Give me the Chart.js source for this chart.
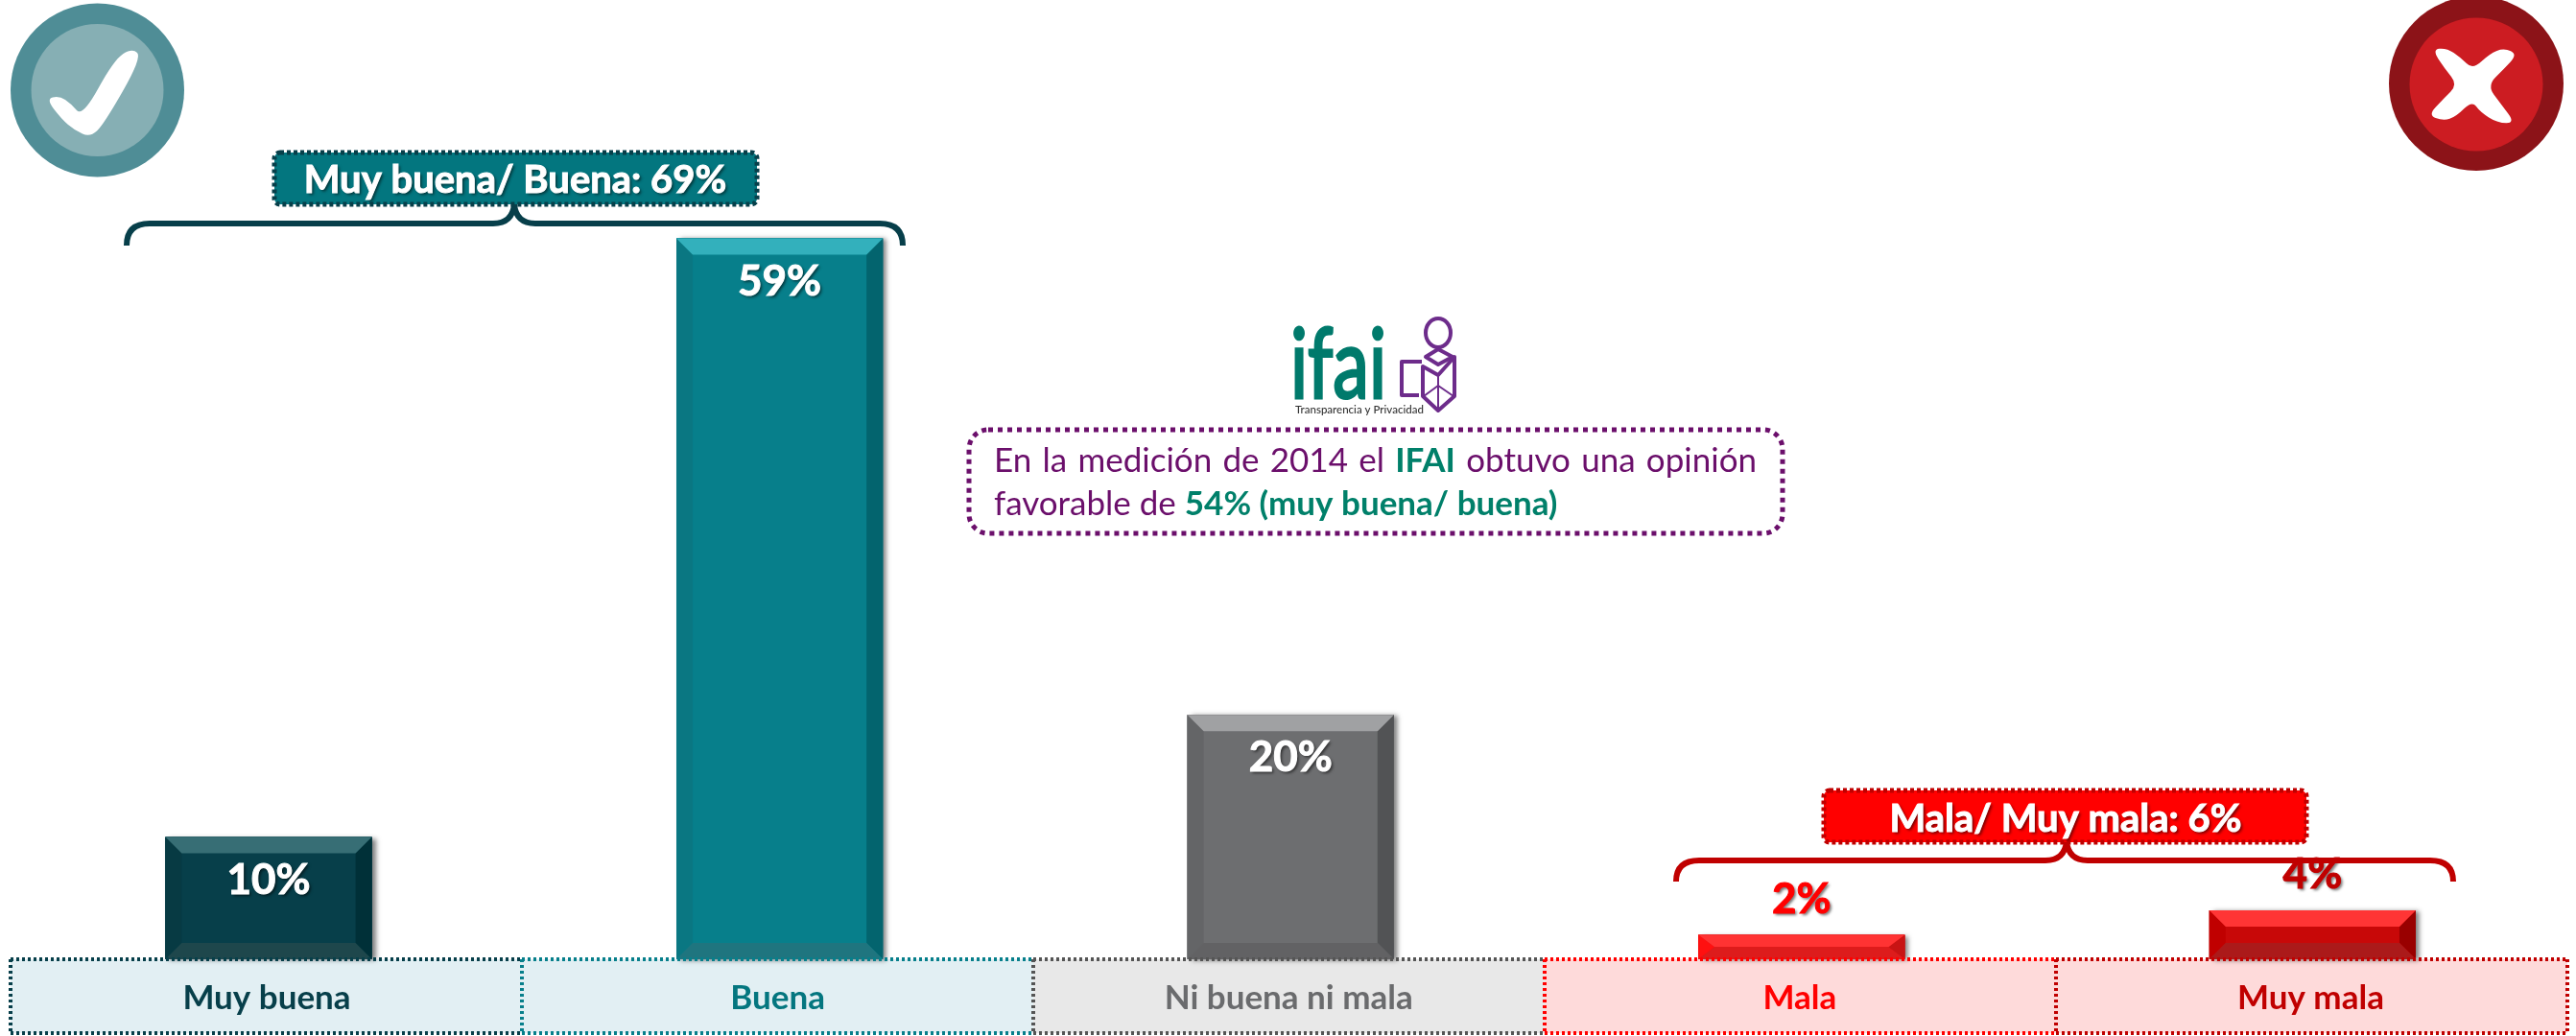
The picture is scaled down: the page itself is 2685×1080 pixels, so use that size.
<!DOCTYPE html>
<html><head><meta charset="utf-8">
<script src="https://cdn.jsdelivr.net/npm/chart.js@4"></script>
<style>html,body{margin:0;padding:0;background:#fff;overflow:hidden}canvas{display:block}</style>
</head><body><canvas id="c" width="2685" height="1080"></canvas>
<script>
const categories = ['Muy buena','Buena','Ni buena ni mala','Mala','Muy mala'];
const percentValues = [10,59,20,2,4];
const valueLabels = ['10%','59%','20%','2%','4%'];
const barColors = ['#073F4A','#077F8B','#6D6E70','#E01515','#C80808'];
const tickColors = ['#073F4A','#04767F','#6A6B6D','#FF0000','#C00000'];
const valueLabelColors = ['#FFFFFF','#FFFFFF','#FFFFFF','#FF0000','#C00000'];
const bevelTop = ['#376E75','#33B0BC','#A0A1A3','#FF3333','#FF3535'];
const bevelRight = ['#003038','#03646E','#525355','#C81414','#990000'];
const bevelLeft = ['#073A43','#0A7782','#646567','#FF1010','#C00000'];
const bevelBottom = ['#1E474C','#1F757F','#626264','#DD1C1C','#AB1A1A'];
const cellFills = ['#E2EFF3','#E2EFF3','#E8E8E8','#FEDADA','#FEDADA'];
const cellBorders = ['#073F4A','#077F8B','#555555','#FF0000','#C00000'];
const FONT = 'Lato, "Open Sans", sans-serif';

function poly(ctx, pts, fill){ctx.beginPath();pts.forEach((p,i)=>i?ctx.lineTo(p[0],p[1]):ctx.moveTo(p[0],p[1]));ctx.closePath();ctx.fillStyle=fill;ctx.fill();}
function smooth(ctx,pts){
  const n=pts.length;ctx.beginPath();
  ctx.moveTo((pts[n-1][0]+pts[0][0])/2,(pts[n-1][1]+pts[0][1])/2);
  for(let i=0;i<n;i++){const a=pts[i],b=pts[(i+1)%n];ctx.quadraticCurveTo(a[0],a[1],(a[0]+b[0])/2,(a[1]+b[1])/2);}
  ctx.closePath();
}
function shadowText(ctx,txt,x,y,color,font,align){
  ctx.save();ctx.font=font;ctx.textAlign=align||'center';ctx.textBaseline='middle';ctx.fillStyle=color;
  ctx.shadowColor='rgba(0,0,0,0.55)';ctx.shadowBlur=3;ctx.shadowOffsetX=2;ctx.shadowOffsetY=2;
  ctx.fillText(txt,x,y);
  ctx.shadowColor='transparent';ctx.strokeStyle=color;ctx.lineWidth=1;ctx.strokeText(txt,x,y);ctx.restore();
}
function badge(ctx,x0,y0,x1,y1,fill,stroke,txt,tx,ty){
  ctx.save();ctx.beginPath();ctx.roundRect(x0+2,y0+2,x1-x0-4,y1-y0-4,6);ctx.fillStyle=fill;ctx.fill();
  ctx.setLineDash([4,3]);ctx.lineWidth=5;ctx.strokeStyle=stroke;ctx.stroke();ctx.restore();
  shadowText(ctx,txt,tx,ty,'#FFFFFF','700 40px '+FONT);
}
function brace(ctx,x0,x1,cx,yT,yEnd,apex,color){
  ctx.save();ctx.beginPath();ctx.strokeStyle=color;ctx.lineWidth=6;
  ctx.moveTo(x0,yEnd);ctx.quadraticCurveTo(x0,yT,x0+24,yT);ctx.lineTo(cx-22,yT);
  ctx.quadraticCurveTo(cx-2,yT,cx,apex);ctx.quadraticCurveTo(cx+2,yT,cx+22,yT);
  ctx.lineTo(x1-24,yT);ctx.quadraticCurveTo(x1,yT,x1,yEnd);ctx.stroke();ctx.restore();
}
function icons(ctx){
  const circ=(x,y,r,c)=>{ctx.beginPath();ctx.arc(x,y,r,0,Math.PI*2);ctx.fillStyle=c;ctx.fill();};
  circ(101.5,94,90.5,'#4F8D96');circ(101.5,94,69,'#86AFB4');
  const chk=[[48,103],[62,100],[74,108],[86,122],[119,62],[138,50],[148,60],[108,130],[94,143],[78,136],[64,124]];
  ctx.save();ctx.fillStyle='#fff';smooth(ctx,chk);ctx.fill();
  circ(2581,87,91,'#8C1318');circ(2581,88,69.5,'#CC1C22');
  const xs=[[285,155],[330,150],[375,180],[412,218],[465,168],[510,150],[552,170],[510,215],[457,268],[500,325],[545,385],[490,385],[435,350],[410,315],[360,365],[320,378],[272,360],[320,310],[365,265],[325,215]];
  ctx.fillStyle='#fff';smooth(ctx,xs.map(p=>[2440+p[0]/3,p[1]/3]));ctx.fill();
  ctx.restore();
}
function logo(ctx){
  ctx.save();
  ctx.font='400 100px Lato, sans-serif';ctx.textBaseline='alphabetic';ctx.textAlign='left';ctx.fillStyle='#007A6C';
  const w=ctx.measureText('ifai').width;
  ctx.translate(1345,415);ctx.scale(100/w,1);ctx.lineWidth=3;ctx.strokeStyle='#007A6C';ctx.fillText('ifai',0,0);ctx.strokeText('ifai',0,0);
  ctx.restore();
  ctx.save();ctx.fillStyle='#333';ctx.font='500 11.5px '+FONT;ctx.textBaseline='middle';ctx.textAlign='left';
  ctx.fillText('Transparencia y Privacidad',1350,427);
  ctx.strokeStyle='#6D2C8B';ctx.lineWidth=4;ctx.lineJoin='round';
  ctx.beginPath();ctx.ellipse(1499,347,13,15,0,0,Math.PI*2);ctx.stroke();
  const path=(a,close)=>{ctx.beginPath();a.forEach((p,i)=>i?ctx.lineTo(p[0],p[1]):ctx.moveTo(p[0],p[1]));if(close)ctx.closePath();ctx.stroke();};
  path([[1499,364],[1514,372],[1499,380],[1486,372]],true);
  path([[1483,382],[1499,391],[1516,372],[1516,413],[1499,428],[1483,413]],true);
  path([[1482,377],[1461,377],[1461,412],[1479,412]],false);
  ctx.lineWidth=2;path([[1499,391],[1499,428]]);path([[1484,413],[1499,402],[1515,413]]);
  ctx.restore();
}
function callout(ctx){
  ctx.save();ctx.beginPath();ctx.roundRect(1010,448,848,108,20);ctx.setLineDash([5,5]);ctx.lineWidth=5;ctx.strokeStyle='#6B0F6B';ctx.stroke();ctx.setLineDash([]);
  ctx.textBaseline='alphabetic';ctx.textAlign='left';
  const P='#6B0F6B',G='#00806A',R='400 35px '+FONT,B='700 35px '+FONT;
  const line1=[['En',P,R],['la',P,R],['medición',P,R],['de',P,R],['2014',P,R],['el',P,R],['IFAI',G,B],['obtuvo',P,R],['una',P,R],['opinión',P,R]];
  let tot=0;line1.forEach(w=>{ctx.font=w[2];w[3]=ctx.measureText(w[0]).width;tot+=w[3];});
  const gap=(1831-1036-tot)/(line1.length-1);let x=1036;
  line1.forEach(w=>{ctx.font=w[2];ctx.fillStyle=w[1];ctx.fillText(w[0],x,492);x+=w[3]+gap;});
  x=1036;[['favorable de ',P,R],['54% (muy buena/ buena)',G,B]].forEach(w=>{ctx.font=w[2];ctx.fillStyle=w[1];ctx.fillText(w[0],x,537);x+=ctx.measureText(w[0]).width;});
  ctx.restore();
}
const bevelPlugin={id:'bevel',
  beforeDraw(chart){
    const ctx=chart.ctx,top=chart.chartArea.bottom,bot=1077,step=533;
    ctx.save();
    categories.forEach((c,i)=>{const l=11+i*step;ctx.fillStyle=cellFills[i];ctx.fillRect(l,top,step,bot-top);});
    ctx.restore();
  },
  afterDatasetsDraw(chart){
    const ctx=chart.ctx,meta=chart.getDatasetMeta(0);
    meta.data.forEach((b,i)=>{
      const l=b.x-b.width/2,r=b.x+b.width/2,t=b.y,bt=b.base,S=17,V=Math.min(17,(bt-t)/2);
      ctx.save();ctx.shadowColor='rgba(0,0,0,0.5)';ctx.shadowBlur=5;ctx.shadowOffsetX=4;ctx.shadowOffsetY=1;ctx.fillStyle=barColors[i];ctx.fillRect(l,t,r-l,bt-t);ctx.restore();
      ctx.fillStyle=barColors[i];ctx.fillRect(l,t,r-l,bt-t);
      poly(ctx,[[l,t],[l+S,t+V],[l+S,bt-V],[l,bt]],bevelLeft[i]);
      poly(ctx,[[r,t],[r-S,t+V],[r-S,bt-V],[r,bt]],bevelRight[i]);
      poly(ctx,[[l,t],[r,t],[r-S,t+V],[l+S,t+V]],bevelTop[i]);
      poly(ctx,[[l,bt],[r,bt],[r-S,bt-V],[l+S,bt-V]],bevelBottom[i]);
    });
    const top=chart.chartArea.bottom,bot=1077,step=533;
    ctx.save();ctx.lineWidth=4;ctx.setLineDash([3,3]);
    categories.forEach((c,i)=>{const a=11+i*step,e=a+step;ctx.strokeStyle=cellBorders[i];
      ctx.beginPath();ctx.moveTo(a,top);ctx.lineTo(e,top);ctx.moveTo(a,bot);ctx.lineTo(e,bot);ctx.moveTo(a,top);ctx.lineTo(a,bot);
      if(i===categories.length-1){ctx.moveTo(e,top);ctx.lineTo(e,bot);}ctx.stroke();});
    ctx.restore();
    meta.data.forEach((b,i)=>{
      const y=percentValues[i]>=10?b.y+45:b.y-37;
      shadowText(ctx,valueLabels[i],b.x,y,valueLabelColors[i],'700 44px '+FONT);
    });
    icons(ctx);
    brace(ctx,132,941,536,233,256,213,'#073F4A');
    badge(ctx,284,157,791,215,'#03767F','#073F4A','Muy buena/ Buena: 69%',537,188);
    brace(ctx,1747,2557,2154,897,919,877,'#C00000');
    badge(ctx,1899,822,2406,880,'#FF0000','#C00000','Mala/ Muy mala: 6%',2153,854);
    logo(ctx);callout(ctx);
  }
};
new Chart(document.getElementById('c'),{
  type:'bar',
  data:{labels:categories,datasets:[{data:percentValues,backgroundColor:barColors,borderWidth:0,categoryPercentage:1,barPercentage:0.404}]},
  options:{responsive:false,animation:false,devicePixelRatio:1,
    layout:{padding:{left:13.7,right:8.3,top:0,bottom:0}},
    plugins:{legend:{display:false},tooltip:{enabled:false},title:{display:false}},
    scales:{
      y:{display:false,min:0,max:78.5,grid:{display:false}},
      x:{grid:{display:false,drawTicks:false},border:{display:false},
        afterFit(s){s.height=80;},
        ticks:{color:tickColors,font:{family:'Lato',size:35,weight:'700'},padding:20,labelOffset:-2,maxRotation:0,autoSkip:false}}
    }
  },
  plugins:[bevelPlugin]
});
</script></body></html>
